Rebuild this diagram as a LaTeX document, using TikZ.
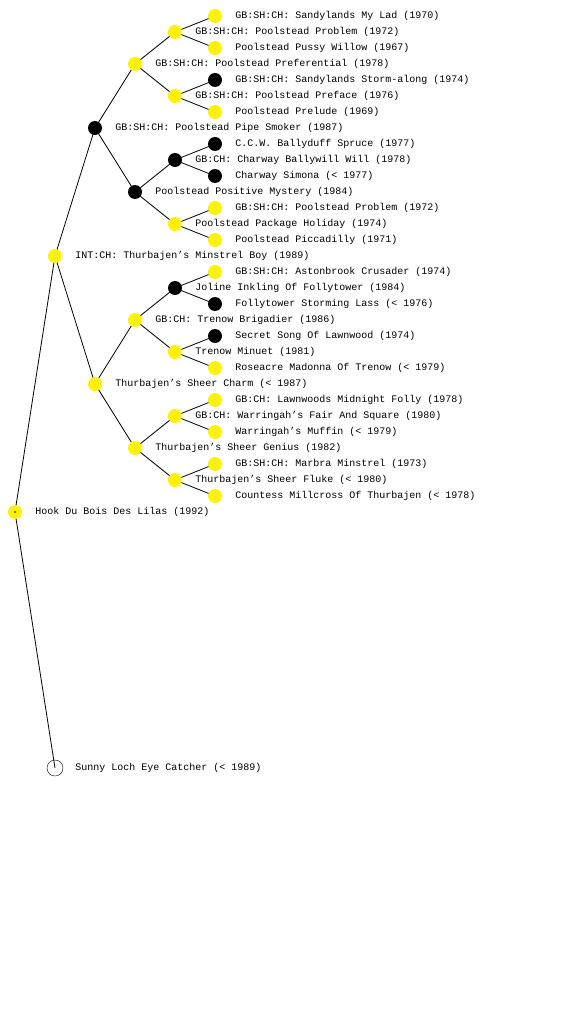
\documentclass[tikz,border=0pt]{standalone}
\usepackage{fontspec}
\setmonofont{Liberation Mono}
\usetikzlibrary{positioning, backgrounds}

\begin{document}
\begin{tikzpicture}[
    x=1pt, y=-1pt,
    every node/.style={font=\ttfamily\fontsize{10}{12}\selectfont},
    dog/.style={circle, inner sep=0pt, minimum size=14pt},
    known/.style={dog, fill=yellow},
    champ/.style={dog, fill=black},
    self/.style={dog, draw, minimum size=16pt},
    lbl/.style={anchor=west, inner sep=0pt, right=13pt of #1},
    link/.style={line width=0.8pt}
]
    \useasboundingbox (0,0) rectangle (560,1024);

    % generation 0 and 1
    \node[self]  (dog)  at (55,768) {};  \node[lbl=dog, right=12pt of dog] (tdog) {Sunny Loch Eye Catcher (< 1989)};
    \node[known] (s)    at (15,512) {};  \node[lbl=s] (ts) {Hook Du Bois Des Lilas (1992)};
    \fill (s.center) circle (0.8pt);

    % generation 2
    \node[known] (ss)   at (55,256) {};  \node[lbl=ss] (tss) {INT:CH: Thurbajen’s Minstrel Boy (1989)};

    % generation 3
    \node[champ] (sss)  at (95,128) {};  \node[lbl=sss] (tsss) {GB:SH:CH: Poolstead Pipe Smoker (1987)};
    \node[known] (ssd)  at (95,384) {};  \node[lbl=ssd] (tssd) {Thurbajen’s Sheer Charm (< 1987)};

    % generation 4
    \node[known] (s4a)  at (135,64)  {}; \node[lbl=s4a] (ts4a) {GB:SH:CH: Poolstead Preferential (1978)};
    \node[champ] (s4b)  at (135,192) {}; \node[lbl=s4b] (ts4b) {Poolstead Positive Mystery (1984)};
    \node[known] (s4c)  at (135,320) {}; \node[lbl=s4c] (ts4c) {GB:CH: Trenow Brigadier (1986)};
    \node[known] (s4d)  at (135,448) {}; \node[lbl=s4d] (ts4d) {Thurbajen’s Sheer Genius (1982)};

    % generation 5
    \node[known] (s5a)  at (175,32)  {}; \node[lbl=s5a] (ts5a) {GB:SH:CH: Poolstead Problem (1972)};
    \node[known] (s5b)  at (175,96)  {}; \node[lbl=s5b] (ts5b) {GB:SH:CH: Poolstead Preface (1976)};
    \node[champ] (s5c)  at (175,160) {}; \node[lbl=s5c] (ts5c) {GB:CH: Charway Ballywill Will (1978)};
    \node[known] (s5d)  at (175,224) {}; \node[lbl=s5d] (ts5d) {Poolstead Package Holiday (1974)};
    \node[champ] (s5e)  at (175,288) {}; \node[lbl=s5e] (ts5e) {Joline Inkling Of Follytower (1984)};
    \node[known] (s5f)  at (175,352) {}; \node[lbl=s5f] (ts5f) {Trenow Minuet (1981)};
    \node[known] (s5g)  at (175,416) {}; \node[lbl=s5g] (ts5g) {GB:CH: Warringah’s Fair And Square (1980)};
    \node[known] (s5h)  at (175,480) {}; \node[lbl=s5h] (ts5h) {Thurbajen’s Sheer Fluke (< 1980)};

    % generation 6
    \node[known] (s6a)  at (215,16)  {}; \node[lbl=s6a] (ts6a) {GB:SH:CH: Sandylands My Lad (1970)};
    \node[known] (s6b)  at (215,48)  {}; \node[lbl=s6b] (ts6b) {Poolstead Pussy Willow (1967)};
    \node[champ] (s6c)  at (215,80)  {}; \node[lbl=s6c] (ts6c) {GB:SH:CH: Sandylands Storm-along (1974)};
    \node[known] (s6d)  at (215,112) {}; \node[lbl=s6d] (ts6d) {Poolstead Prelude (1969)};
    \node[champ] (s6e)  at (215,144) {}; \node[lbl=s6e] (ts6e) {C.C.W. Ballyduff Spruce (1977)};
    \node[champ] (s6f)  at (215,176) {}; \node[lbl=s6f] (ts6f) {Charway Simona (< 1977)};
    \node[known] (s6g)  at (215,208) {}; \node[lbl=s6g] (ts6g) {GB:SH:CH: Poolstead Problem (1972)};
    \node[known] (s6h)  at (215,240) {}; \node[lbl=s6h] (ts6h) {Poolstead Piccadilly (1971)};
    \node[known] (s6i)  at (215,272) {}; \node[lbl=s6i] (ts6i) {GB:SH:CH: Astonbrook Crusader (1974)};
    \node[champ] (s6j)  at (215,304) {}; \node[lbl=s6j] (ts6j) {Follytower Storming Lass (< 1976)};
    \node[champ] (s6k)  at (215,336) {}; \node[lbl=s6k] (ts6k) {Secret Song Of Lawnwood (1974)};
    \node[known] (s6l)  at (215,368) {}; \node[lbl=s6l] (ts6l) {Roseacre Madonna Of Trenow (< 1979)};
    \node[known] (s6m)  at (215,400) {}; \node[lbl=s6m] (ts6m) {GB:CH: Lawnwoods Midnight Folly (1978)};
    \node[known] (s6n)  at (215,432) {}; \node[lbl=s6n] (ts6n) {Warringah’s Muffin (< 1979)};
    \node[known] (s6o)  at (215,464) {}; \node[lbl=s6o] (ts6o) {GB:SH:CH: Marbra Minstrel (1973)};
    \node[known] (s6p)  at (215,496) {}; \node[lbl=s6p] (ts6p) {Countess Millcross Of Thurbajen (< 1978)};

    % lines from child to parents
    \begin{scope}[on background layer]
        \draw[link] (dog.center) -- (s.center);
        \draw[link] (s.center) -- (ss.center);
        \draw[link] (ss.center) -- (sss.center);  \draw[link] (ss.center) -- (ssd.center);
        \draw[link] (sss.center) -- (s4a.center); \draw[link] (sss.center) -- (s4b.center);
        \draw[link] (ssd.center) -- (s4c.center); \draw[link] (ssd.center) -- (s4d.center);
        \draw[link] (s4a.center) -- (s5a.center); \draw[link] (s4a.center) -- (s5b.center);
        \draw[link] (s4b.center) -- (s5c.center); \draw[link] (s4b.center) -- (s5d.center);
        \draw[link] (s4c.center) -- (s5e.center); \draw[link] (s4c.center) -- (s5f.center);
        \draw[link] (s4d.center) -- (s5g.center); \draw[link] (s4d.center) -- (s5h.center);
        \draw[link] (s5a.center) -- (s6a.center); \draw[link] (s5a.center) -- (s6b.center);
        \draw[link] (s5b.center) -- (s6c.center); \draw[link] (s5b.center) -- (s6d.center);
        \draw[link] (s5c.center) -- (s6e.center); \draw[link] (s5c.center) -- (s6f.center);
        \draw[link] (s5d.center) -- (s6g.center); \draw[link] (s5d.center) -- (s6h.center);
        \draw[link] (s5e.center) -- (s6i.center); \draw[link] (s5e.center) -- (s6j.center);
        \draw[link] (s5f.center) -- (s6k.center); \draw[link] (s5f.center) -- (s6l.center);
        \draw[link] (s5g.center) -- (s6m.center); \draw[link] (s5g.center) -- (s6n.center);
        \draw[link] (s5h.center) -- (s6o.center); \draw[link] (s5h.center) -- (s6p.center);
    \end{scope}
\end{tikzpicture}
\end{document}
